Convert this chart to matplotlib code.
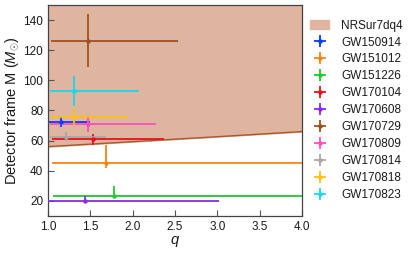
import matplotlib
matplotlib.use("Agg")
import matplotlib.pyplot as plt
import numpy as np

plt.rcParams['font.family'] = ['Liberation Sans', 'DejaVu Sans']
plt.rcParams['mathtext.fontset'] = 'custom'
plt.rcParams['mathtext.rm'] = 'Liberation Sans'
plt.rcParams['mathtext.it'] = 'Liberation Sans:italic'

events = ["GW150914", "GW151012", "GW151226", "GW170104", "GW170608",
          "GW170729", "GW170809", "GW170814", "GW170818", "GW170823"]
colors = ["#0a3cff", "#ff8214", "#1ec832", "#e8101e", "#8a2be2",
          "#a0501e", "#ff4fc0", "#a8a8a8", "#ffc014", "#14d8f0"]
q_med = [1.15, 1.69, 1.78, 1.535, 1.44, 1.469, 1.469, 1.209, 1.31, 1.307]
q_lo = [1.01, 1.05, 1.06, 1.05, 0.99, 1.035, 1.02, 1.02, 1.03, 1.024]
q_hi = [1.50, 4.20, 4.20, 2.37, 3.02, 2.53, 2.28, 1.68, 1.95, 2.07]
m_med = [72.2, 45.0, 23.3, 61.0, 19.6, 126.3, 71.0, 62.6, 75.5, 92.7]
m_lo = [68.9, 41.6, 22.2, 57.0, 18.5, 109.0, 66.0, 60.0, 70.0, 83.0]
m_hi = [76.4, 57.0, 30.1, 64.2, 23.3, 144.0, 76.4, 65.5, 81.0, 102.9]

region_q = [1.0, 2.0, 3.0, 4.0]
region_m_low = [56.0, 59.3, 62.6, 66.0]
region_m_high = [160.0, 160.0, 160.0, 160.0]

fig = plt.figure(figsize=(4.15, 2.54), dpi=100)
ax = fig.add_axes([0.1157, 0.150, 0.612, 0.830])

ax.fill_between(region_q, region_m_low, region_m_high, color="#dfb5a0",
                label="NRSur7dq4", zorder=1)
ax.plot(region_q, region_m_low, color="#a8582d", lw=1.0, zorder=2)

for i, ev in enumerate(events):
    xerr = [[q_med[i] - q_lo[i]], [q_hi[i] - q_med[i]]]
    yerr = [[m_med[i] - m_lo[i]], [m_hi[i] - m_med[i]]]
    ax.errorbar([q_med[i]], [m_med[i]], xerr=xerr, yerr=yerr, fmt='o',
                ms=2.2, color=colors[i], ecolor=colors[i], elinewidth=1.3,
                capsize=0, label=ev, zorder=3)

ax.set_xlim(1.0, 4.0)
ax.set_ylim(10, 150)
ax.set_xticks([1.0, 1.5, 2.0, 2.5, 3.0, 3.5, 4.0])
ax.set_yticks([20, 40, 60, 80, 100, 120, 140])
ax.tick_params(direction='in', labelsize=8.5, length=4, width=0.8,
               color='#555555', labelcolor='#1a1a1a')
for s in ax.spines.values():
    s.set_color('#444444')
    s.set_linewidth(0.9)
ax.set_xlabel(r"$q$", fontsize=10.5, labelpad=1, color='#1a1a1a')
ax.set_ylabel(r"Detector frame M ($M_{\odot}$)", fontsize=10.5, labelpad=2,
              color='#1a1a1a')

leg = ax.legend(loc='upper left', bbox_to_anchor=(1.005, 0.965), frameon=False,
                fontsize=8.5, handlelength=1.6, handletextpad=1.0,
                labelspacing=0.42, borderaxespad=0.2)
for t in leg.get_texts():
    t.set_color('#1a1a1a')

fig.savefig("out.png", dpi=100)
